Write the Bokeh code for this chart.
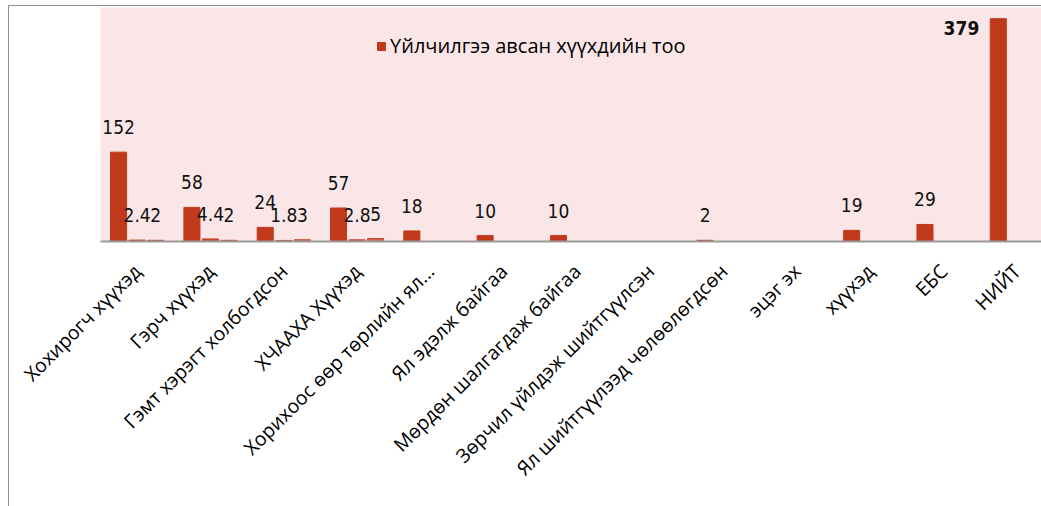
import math
from bokeh.plotting import figure
from bokeh.models import Range1d, FixedTicker, Legend, LegendItem, ColumnDataSource, Spacer
from bokeh.layouts import column, row
from bokeh.core.properties import value
from bokeh.transform import dodge
from bokeh.embed import file_html
from bokeh.resources import INLINE

categories = ["Хохирогч хүүхэд", "Гэрч хүүхэд", "Гэмт хэрэгт холбогдсон", "ХЧААХА Хүүхэд",
              "Хорихоос өөр төрлийн ял...", "Ял эдэлж байгаа", "Мөрдөн шалгагдаж байгаа",
              "Зөрчил үйлдэж шийтгүүлсэн", "Ял шийтгүүлээд чөлөөлөгдсөн", "эцэг эх",
              "хүүхэд", "ЕБС", "НИЙТ"]
served = [152, 58, 24, 57, 18, 10, 10, None, 2, None, 19, 29, 379]
served_labels = ["152", "58", "24", "57", "18", "10", "10", "", "2", "", "19", "29", "379"]
series2 = [2.4, 4.4, 1.8, 2.8]
series3 = [2, 2, 3, 5]
legend_label = "Үйлчилгээ авсан хүүхдийн тоо"

RED = "#c0391b"
RED2 = "#c8432a"
RED3 = "#d7604a"
PINK = "#fbe6e7"

pos = [i + 0.5 for i in range(len(categories))]
s1 = ColumnDataSource(dict(x=[p for p, v in zip(pos, served) if v is not None],
                           top=[v for v in served if v is not None],
                           lab=[l for l, v in zip(served_labels, served) if v is not None]))
s2 = ColumnDataSource(dict(x=pos[:len(series2)], top=series2, lab=[str(v) for v in series2]))
s3 = ColumnDataSource(dict(x=pos[:len(series3)], top=series3, lab=[str(v) for v in series3]))

p = figure(width=1033, height=501, output_backend="svg", toolbar_location=None,
           x_range=Range1d(0, 12.85), y_range=Range1d(0, 398),
           min_border_left=91, min_border_right=0, min_border_top=1, min_border_bottom=266)
p.styles = {"border-left": "1px solid #8f8f8f", "border-top": "1px solid #8f8f8f"}
p.background_fill_color = PINK
p.border_fill_color = "white"
p.outline_line_color = None
p.grid.visible = False
p.yaxis.visible = False

W = 0.219
D = 0.253
r1 = p.vbar(x=dodge("x", -D, range=p.x_range), top="top", width=W, source=s1,
            fill_color=RED, line_color=RED)
p.vbar(x=dodge("x", 0, range=p.x_range), top="top", width=W, source=s2,
       fill_color=RED2, line_color=RED2)
p.vbar(x=dodge("x", D, range=p.x_range), top="top", width=W, source=s3,
       fill_color=RED3, line_color=RED2)

FONT = value("'DejaVu Sans Condensed', 'Liberation Sans Narrow', 'Roboto', sans-serif")
LBL = dict(text_font=FONT, text_font_size="19px", text_baseline="middle", text_color="#111111")
lab1 = ColumnDataSource(dict(x=s1.data["x"][:-1], y=s1.data["top"][:-1], t=s1.data["lab"][:-1]))
p.text(x=dodge("x", -D, range=p.x_range), y="y", text="t", source=lab1,
       text_align="center", y_offset=-25, **LBL)
tot = ColumnDataSource(dict(x=s1.data["x"][-1:], y=s1.data["top"][-1:], t=s1.data["lab"][-1:]))
p.text(x=dodge("x", -D, range=p.x_range), y="y", text="t", source=tot,
       text_font_style="bold", text_align="right", x_offset=-19, y_offset=9, **LBL)
p.text(x=dodge("x", 0, range=p.x_range), y="top", text="lab", source=s2,
       text_align="center", y_offset=-25, **LBL)
p.text(x=dodge("x", D, range=p.x_range), y="top", text="lab", source=s3,
       text_align="center", y_offset=-25, **LBL)

ax = p.xaxis[0]
ax.ticker = FixedTicker(ticks=pos)
ax.major_label_overrides = {p_: c for p_, c in zip(pos, categories)}
ax.major_label_orientation = math.pi / 4
ax.major_label_text_font = "Open Sans"
ax.major_label_text_font_size = "19.5px"
ax.major_label_text_color = "black"
ax.major_label_standoff = 20
ax.major_tick_line_color = None
ax.minor_tick_line_color = None
ax.axis_line_color = "#9a9a9a"
ax.axis_line_width = 2

legend = Legend(items=[LegendItem(label=legend_label, renderers=[r1])],
                location=(276, 182), orientation="vertical",
                background_fill_alpha=0, border_line_color=None,
                padding=0, margin=0, glyph_width=10, glyph_height=10, label_standoff=4,
                label_text_font="Open Sans", label_text_font_size="20px",
                label_text_color="black")
p.add_layout(legend)

layout = column(Spacer(height=5), row(Spacer(width=8), p))
open("out.html", "w").write(file_html(layout, INLINE))
